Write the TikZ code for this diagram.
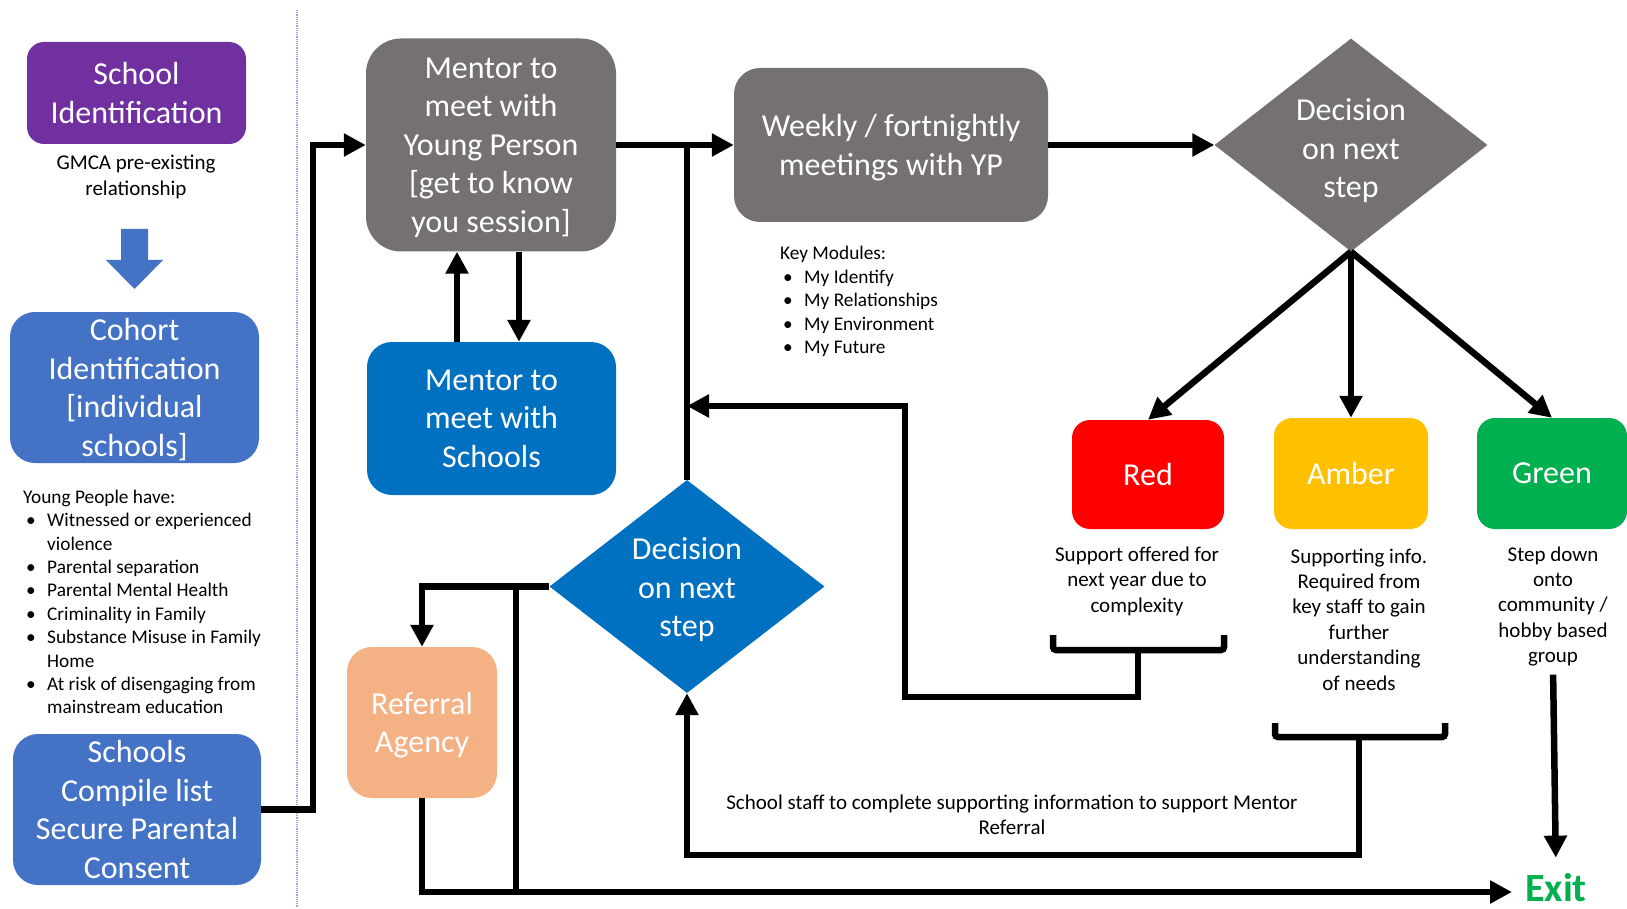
\documentclass[tikz,border=0pt]{standalone}
\usepackage{fontspec}
\setmainfont{Carlito}
\usetikzlibrary{arrows.meta,shapes.geometric}
\definecolor{cpurple}{HTML}{7030A0}
\definecolor{cblue}{HTML}{4472C4}
\definecolor{cdblue}{HTML}{0070C0}
\definecolor{cgrey}{HTML}{767171}
\definecolor{cred}{HTML}{FF0000}
\definecolor{camber}{HTML}{FFC000}
\definecolor{cgreen}{HTML}{00B050}
\definecolor{cpeach}{HTML}{F4B183}
\definecolor{cdot}{HTML}{8FAADC}
\newcommand{\fbig}{\fontsize{32}{38.5}\selectfont}
\newcommand{\fsm}{\fontsize{19.3}{23.4}\selectfont}
\newcommand{\fcap}{\fontsize{21}{25.4}\selectfont}
\newcommand{\fexit}{\fontsize{40}{48}\selectfont\bfseries}
\newcommand{\bul}{\makebox[24pt][l]{\hspace{3pt}\textbullet}}
\newcommand{\ind}{\makebox[24pt]{}}
\begin{document}
\begin{tikzpicture}[x=1pt,y=-1pt,
  conn/.style={line width=6.5pt},
  arr/.style={line width=6.5pt,-{Triangle[length=22pt,width=22pt]}},
  box/.style={rounded corners=#1, inner sep=0pt, align=center, text=white, font=\fbig, text depth=0pt},
  box/.default=20pt,
  dia/.style={diamond, inner sep=0pt},
  dtext/.style={font=\fbig, text=white, align=center, inner sep=0pt, text depth=0pt},
  captxt/.style={font=\fcap, align=center, inner sep=0pt},
  lst/.style={font=\fsm, align=left, inner sep=0pt, anchor=west}]
\fill[white] (0,0) rectangle (1627,909);
\useasboundingbox (0,0) rectangle (1627,909);

% divider
\draw[cdot, line width=1.2pt, densely dotted] (297,10) -- (297,907);

% left column
\node[box=17pt, fill=cpurple, minimum width=219pt, minimum height=102pt] (schoolid) at (136.5,93) {School\\Identification};
\node[captxt] (gmca) at (136,177) {GMCA pre-existing\\relationship};
\fill[cblue] (121,229) -- (148,229) -- (148,260) -- (163,260) -- (134.5,289) -- (106,260) -- (121,260) -- cycle;
\node[box=25pt, fill=cblue, minimum width=249pt, minimum height=151pt] (cohort) at (134.5,387.5) {Cohort\\Identification\\{[}individual\\schools{]}};
\node[lst] (yp) at (23,602) {Young People have:\\
 \bul Witnessed or experienced\\
 \ind violence\\
 \bul Parental separation\\
 \bul Parental Mental Health\\
 \bul Criminality in Family\\
 \bul Substance Misuse in Family\\
 \ind Home\\
 \bul At risk of disengaging from\\
 \ind mainstream education};
\node[box=25pt, fill=cblue, minimum width=248pt, minimum height=151pt] (schools) at (137,809.5) {Schools\\Compile list\\Secure Parental\\Consent};

% middle
\node[box=35pt, fill=cgrey, minimum width=250pt, minimum height=213pt] (mentoryp) at (491,145) {Mentor to\\meet with\\Young Person\\{[}get to know\\you session{]}};
\node[box=25pt, fill=cdblue, minimum width=249pt, minimum height=153pt] (mentorsch) at (491.5,418.5) {Mentor to\\meet with\\Schools};
\node[box=26pt, fill=cgrey, minimum width=314pt, minimum height=154pt] (weekly) at (891,145) {Weekly / fortnightly\\meetings with YP};
\node[lst] (keymod) at (780,301.5) {Key Modules:\\
 \bul My Identify\\
 \bul My Relationships\\
 \bul My Environment\\
 \bul My Future};

\node[dia, fill=cgrey, minimum width=273pt, minimum height=213pt] (gdec) at (1351,145) {};
\node[dtext] (gdect) at (1351,148) {Decision\\on next\\step};

\node[dia, fill=cdblue, minimum width=275pt, minimum height=213pt] (bdec) at (687,586.5) {};
\node[dtext] (bdect) at (687,587) {Decision\\on next\\step};

\node[box=25pt, fill=cpeach, minimum width=150pt, minimum height=151pt] (referral) at (422,722.5) {Referral\\Agency};

% RAG
\node[box=18pt, fill=cred, minimum width=152pt, minimum height=109pt] (red) at (1148,474.5) {Red};
\node[box=18pt, fill=camber, minimum width=154pt, minimum height=111pt] (amber) at (1351,473.5) {Amber};
\node[box=18pt, fill=cgreen, minimum width=150pt, minimum height=111pt] (green) at (1552,473.5) {Green};

\node[captxt] (redcap) at (1137,581) {Support offered for\\next year due to\\complexity};
\node[captxt] (ambcap) at (1359,619.5) {Supporting info.\\Required from\\key staff to gain\\further\\understanding\\of needs};
\node[captxt] (grncap) at (1553,606.5) {Step down\\onto\\community /\\hobby based\\group};

\node[captxt] (staff) at (1012,815) {School staff to complete supporting information to support Mentor\\Referral};

\node[font=\fexit, text=cgreen, inner sep=0pt, anchor=west] (exit) at (1525,888) {Exit};
\coordinate (exitin) at (1512,892);

% brackets
\coordinate (redbr) at (1138,650);
\coordinate (redturn) at (905,406);
\coordinate (ambbr) at (1359,737);
\coordinate (ambturn) at (1359,855);
\draw[conn, rounded corners=3pt] (1053,635) |- (1224,650) -- (1224,635);
\draw[conn, rounded corners=3pt] (1275,723) |- (1445,737) -- (1445,723);

% connectors
\draw[arr] (schools.east) -- ++(52,0) |- (mentoryp.west);
\draw[arr] (mentoryp.east) -- (weekly.west);
\draw[arr] (weekly.east) -- (gdec.west);
\draw[arr] (gdec.south) -- (red.north);
\draw[arr] (gdec.south) -- (amber.north);
\draw[arr] (gdec.south) -- (green.north);
\draw[arr] ([xshift=-34.5pt]mentorsch.north) -- ([xshift=-34.5pt]mentorsch.north |- mentoryp.south);
\draw[arr] ([xshift=28pt]mentoryp.south) -- ([xshift=28pt]mentoryp.south |- mentorsch.north);
\draw[conn] (bdec.north) -- (bdec.north |- mentoryp.east);
\draw[arr] (redbr) -- ++(0,47) -| (redturn) -- (bdec.north |- redturn);
\draw[arr] (ambbr) -- (ambturn) -| (bdec.south);
\draw[arr] (bdec.west) -| (referral.north);
\draw[conn] ([xshift=-33.5pt]bdec.west) -- ([xshift=-33.5pt]bdec.west |- exitin);
\draw[arr] (referral.south) |- (exitin);
\draw[arr, shorten <=8pt, shorten >=16pt] (grncap.south) -- (exit.north);
\end{tikzpicture}
\end{document}
